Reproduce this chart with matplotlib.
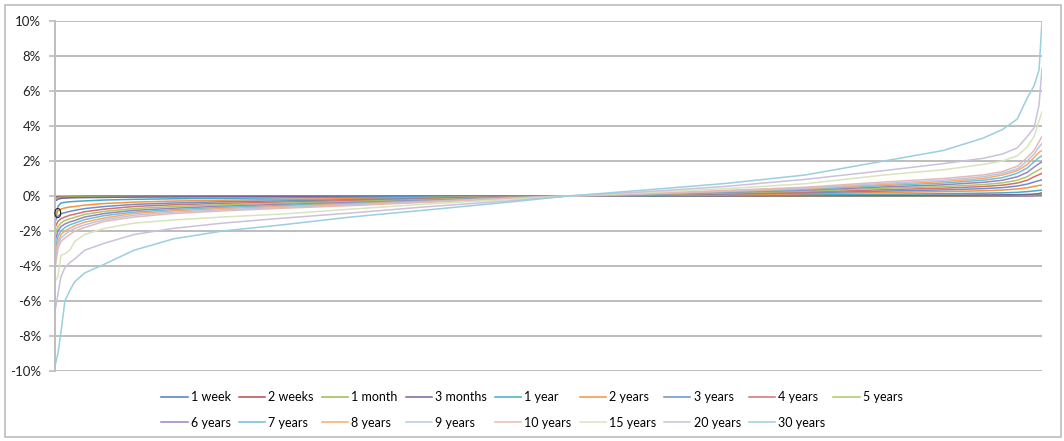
import matplotlib.pyplot as plt
from matplotlib.patches import Rectangle
from matplotlib.ticker import FuncFormatter

plt.rcParams['font.family'] = ['Lato', 'DejaVu Sans']

# percentile position of each sorted observation (0 = smallest, 100 = largest)
pctl = [0, 0.3, 0.6, 1, 1.5, 2, 3, 5, 8, 12, 17, 23, 30, 38, 46, 52,
        60, 68, 76, 84, 90, 94, 96, 97.5, 98.5, 99.2, 99.7, 100]

labels = ['1 week', '2 weeks', '1 month', '3 months', '1 year', '2 years',
          '3 years', '4 years', '5 years', '6 years', '7 years', '8 years',
          '9 years', '10 years', '15 years', '20 years', '30 years']

colors = ['#4A7EBB', '#BE4B48', '#98B954', '#7D60A0', '#46AAC5', '#F69240',
          '#6A8FCF', '#D86E6C', '#A9C96A', '#9A83BE', '#6FC0D6', '#F9A969',
          '#B9C7E5', '#E5B9B7', '#D7E4BD', '#CCC1DA', '#9ACFDF']

# values in %
w1 = [-0.08, -0.05, -0.04, -0.035, -0.03, -0.028, -0.025, -0.02, -0.016, -0.013,
      -0.01, -0.008, -0.006, -0.004, -0.001, 0, 0.001, 0.004, 0.006, 0.009,
      0.011, 0.014, 0.016, 0.019, 0.023, 0.028, 0.035, 0.045]
w2 = [-0.1, -0.06, -0.05, -0.045, -0.04, -0.036, -0.032, -0.027, -0.022, -0.018,
      -0.014, -0.012, -0.009, -0.005, -0.002, 0, 0.002, 0.005, 0.009, 0.012,
      0.015, 0.019, 0.022, 0.026, 0.031, 0.037, 0.048, 0.06]
m1 = [-0.15, -0.09, -0.07, -0.06, -0.055, -0.05, -0.045, -0.04, -0.03, -0.025,
      -0.02, -0.017, -0.012, -0.007, -0.003, 0, 0.003, 0.007, 0.012, 0.017,
      0.022, 0.027, 0.032, 0.037, 0.045, 0.055, 0.07, 0.09]
m3 = [-0.3, -0.18, -0.14, -0.12, -0.11, -0.1, -0.09, -0.08, -0.06, -0.05,
      -0.04, -0.035, -0.025, -0.015, -0.005, 0, 0.005, 0.015, 0.025, 0.035,
      0.045, 0.055, 0.065, 0.075, 0.09, 0.11, 0.14, 0.18]
y1 = [-1.6, -0.6, -0.4, -0.36, -0.33, -0.31, -0.28, -0.23, -0.19, -0.16,
      -0.13, -0.11, -0.08, -0.05, -0.02, 0, 0.02, 0.04, 0.07, 0.1,
      0.13, 0.16, 0.18, 0.21, 0.25, 0.29, 0.32, 0.34]
y2 = [-1.1, -0.85, -0.75, -0.68, -0.63, -0.6, -0.52, -0.43, -0.35, -0.29,
      -0.24, -0.2, -0.15, -0.09, -0.04, 0, 0.04, 0.08, 0.13, 0.2,
      0.25, 0.3, 0.34, 0.4, 0.47, 0.55, 0.6, 0.62]
y3 = [-1.4, -1.15, -1.02, -0.95, -0.88, -0.82, -0.72, -0.6, -0.48, -0.4,
      -0.33, -0.28, -0.21, -0.13, -0.05, 0, 0.05, 0.12, 0.18, 0.28,
      0.35, 0.42, 0.48, 0.57, 0.68, 0.8, 0.88, 0.92]
y4 = [-1.8, -1.45, -1.3, -1.2, -1.1, -1.04, -0.9, -0.75, -0.6, -0.5,
      -0.42, -0.35, -0.27, -0.17, -0.07, 0, 0.07, 0.15, 0.23, 0.36,
      0.45, 0.54, 0.62, 0.74, 0.9, 1.1, 1.22, 1.3]
y5 = [-2.2, -1.75, -1.55, -1.4, -1.3, -1.22, -1.05, -0.88, -0.72, -0.6,
      -0.5, -0.41, -0.32, -0.2, -0.08, 0, 0.08, 0.18, 0.28, 0.44,
      0.54, 0.65, 0.75, 0.9, 1.1, 1.35, 1.5, 1.6]
y6 = [-2.6, -2.0, -1.75, -1.6, -1.48, -1.4, -1.2, -1.0, -0.82, -0.7,
      -0.58, -0.48, -0.37, -0.24, -0.1, 0, 0.1, 0.21, 0.33, 0.52,
      0.64, 0.78, 0.9, 1.1, 1.35, 1.65, 1.85, 1.95]
y7 = [-3.1, -2.3, -2.0, -1.8, -1.65, -1.55, -1.35, -1.12, -0.92, -0.78,
      -0.65, -0.54, -0.42, -0.27, -0.11, 0, 0.11, 0.24, 0.38, 0.6,
      0.74, 0.9, 1.05, 1.3, 1.6, 1.95, 2.2, 2.3]
y8 = [-3.5, -2.6, -2.2, -2.0, -1.85, -1.7, -1.5, -1.25, -1.0, -0.85,
      -0.72, -0.6, -0.46, -0.3, -0.12, 0, 0.12, 0.27, 0.42, 0.66,
      0.82, 1.0, 1.2, 1.45, 1.8, 2.2, 2.5, 2.6]
y9 = [-3.7, -2.8, -2.4, -2.2, -2.0, -1.85, -1.65, -1.35, -1.1, -0.92,
      -0.78, -0.65, -0.5, -0.32, -0.13, 0, 0.13, 0.29, 0.45, 0.72,
      0.9, 1.1, 1.3, 1.55, 2.0, 2.4, 2.8, 3.0]
y10 = [-4.2, -3.0, -2.6, -2.4, -2.2, -2.0, -1.8, -1.45, -1.2, -1.0,
       -0.85, -0.7, -0.55, -0.35, -0.15, 0, 0.15, 0.32, 0.5, 0.8,
       1.0, 1.2, 1.4, 1.7, 2.2, 2.6, 3.1, 3.4]
y15 = [-4.9, -4.6, -3.4, -3.3, -3.1, -2.6, -2.2, -1.85, -1.55, -1.37,
       -1.2, -1.03, -0.75, -0.45, -0.2, 0, 0.2, 0.42, 0.7, 1.2,
       1.5, 1.8, 2.0, 2.3, 2.8, 3.4, 4.3, 4.8]
y20 = [-6.6, -5.6, -4.6, -4.1, -3.8, -3.6, -3.1, -2.7, -2.2, -1.85,
       -1.55, -1.27, -0.97, -0.6, -0.28, 0, 0.25, 0.55, 0.95, 1.45,
       1.85, 2.15, 2.4, 2.75, 3.4, 3.9, 5.2, 7.3]
y30 = [-9.7, -9.0, -7.8, -6.0, -5.4, -4.9, -4.4, -3.9, -3.1, -2.45,
       -2.0, -1.65, -1.2, -0.78, -0.35, 0, 0.35, 0.72, 1.2, 2.0,
       2.6, 3.3, 3.8, 4.4, 5.6, 6.3, 7.2, 10.0]

series = [w1, w2, m1, m3, y1, y2, y3, y4, y5, y6, y7, y8, y9, y10, y15, y20, y30]

fig = plt.figure(figsize=(10.64, 4.41), dpi=100)
ax = fig.add_axes([55 / 1064, 1 - 371 / 441, 987 / 1064, 350 / 441])

grid_c = '#BDBDBD'
for v in range(-10, 11, 2):
    ax.axhline(v, color=grid_c, lw=1.4, zorder=0)

handles = []
for vals, lab, c in zip(series, labels, colors):
    h, = ax.plot(pctl, vals, color=c, lw=1.1, label=lab)
    handles.append(h)

ax.set_xlim(0, 100)
ax.set_ylim(-10, 10)
ax.set_yticks(range(-10, 11, 2))
ax.yaxis.set_major_formatter(FuncFormatter(lambda v, p: '%d%%' % v))
ax.tick_params(axis='y', length=4, width=1.2, color=grid_c, pad=6,
               labelsize=9.5, labelcolor='#222222')
ax.set_xticks([])
for s in ['top', 'right', 'bottom']:
    ax.spines[s].set_visible(False)
ax.spines['left'].set_color(grid_c)
ax.spines['left'].set_linewidth(1.4)

ax.annotate('0', xy=(0, 0), xytext=(2, -18), textcoords='offset pixels',
            ha='center', va='center', fontsize=9.5, color='#222222')

# legend filled row-wise: 9 on first row, 8 on second
row1 = handles[:9]
row2 = handles[9:]
order = []
for j in range(9):
    order.append(row1[j])
    if j < len(row2):
        order.append(row2[j])
fig.legend(order, [h.get_label() for h in order], loc='center',
           bbox_to_anchor=(0.5, 1 - 410 / 441), ncol=9, frameon=False,
           fontsize=9, handlelength=2.1, handletextpad=0.25,
           columnspacing=0.65, labelspacing=1.05)

fig.patches.append(Rectangle((5 / 1064, 4 / 441), 1056 / 1064, 432 / 441,
                             transform=fig.transFigure, fill=False,
                             edgecolor='#BDBDBD', lw=1.2))

fig.savefig('out.png', dpi=100)
